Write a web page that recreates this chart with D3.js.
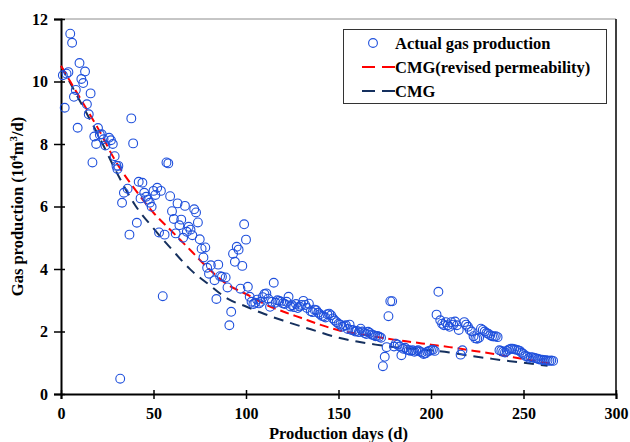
<!DOCTYPE html>
<html>
<head>
<meta charset="utf-8">
<script src="https://cdn.jsdelivr.net/npm/d3@7"></script>
<style>
  body { margin: 0; background: #fff; }
  svg { display: block; }
  text { font-family: "Liberation Serif", "Times New Roman", serif; font-weight: bold; fill: #000; }
</style>
</head>
<body>
<svg id="chart" width="630" height="442"></svg>
<script>
// actual gas production, [day, 10^4 m3/d]
var actualDays = [1,2,3,4,5,6,7,8,9,10,11,12,13,14,15,16,17,18,19,20,21,22,23,24,26,27,28,29,30,30.5,31,32,33,34,36,37,38,39,41,42,43,44,45,46,47,48,49,50,51,52,53,54,55,56,57,58,59,60,61,62,63,64,65,66,67,68,69,70,71,72,73,74,75,76,77,78,79,80,81,83,84,85,86,87,89,90,91,92,93,94,95,96,97,98,99,100,
  101,102,103,104,105,106,107,108,109,110,111,112,113,114,115,116,117,118,119,120,121,122,123,124,125,126,127,128,129,130,131,132,133,134,135,136,137,138,139,140,141,142,143,144,145,146,147,148,149,150,151,152,153,154,155,156,157,158,159,160,161,162,163,164,165,166,167,168,169,170,171,172,
  173,174,175,176,177,178,179,180,181,182,183,184,185,186,187,188,189,190,191,192,193,194,195,196,197,198,199,200,201,202,203,204,
  205,206,207,208,209,210,211,212,213,214,215,216,217,218,219,220,221,222,223,224,225,226,227,228,229,230,231,232,233,234,235,236,
  237,238,239,240,241,242,243,244,245,246,247,248,249,250,251,252,253,254,255,256,257,258,259,260,261,262,263,264,265,266];
var actualGas = [10.2,9.16,10.25,10.3,11.53,11.24,9.51,9.73,8.52,10.59,10.08,9.95,10.32,9.27,8.95,9.62,7.41,8.24,8.0,8.51,8.3,8.31,8.15,7.95,8.2,8.12,8.0,7.61,7.3,7.2,7.3,0.49,6.12,6.44,6.57,5.1,8.82,8.02,5.48,6.79,6.26,6.76,6.44,6.31,6.22,6.12,5.99,6.5,6.37,6.6,5.17,6.5,3.13,5.1,7.41,7.38,6.33,5.85,5.6,5.14,6.1,5.4,5.58,5.0,6.02,5.19,5.35,5.26,5.08,5.91,5.81,5.49,4.95,4.65,4.37,4.69,4.04,3.85,4.12,3.64,3.04,4.14,3.77,3.75,3.73,3.41,2.2,2.63,4.49,4.23,4.71,4.62,3.37,4.1,5.43,4.94,
  3.43,3.11,2.95,2.88,2.92,3.02,2.9,2.95,3.1,3.2,3.22,3.05,2.79,2.95,3.56,2.92,3.0,2.98,2.95,2.9,2.88,2.95,3.11,2.8,2.84,2.78,2.88,2.75,2.8,2.85,2.98,2.85,2.75,2.89,2.65,2.62,2.7,2.68,2.6,2.55,2.5,2.48,2.45,2.55,2.57,2.52,2.42,2.35,2.3,2.25,2.22,2.15,2.18,2.2,2.08,2.22,2.05,2.04,2.0,2.02,1.98,2.09,2.0,1.95,1.92,1.99,1.95,1.9,1.88,1.85,1.86,1.83,
  1.8,0.89,1.19,1.5,2.49,2.97,2.97,1.52,1.61,1.58,1.52,1.24,1.45,1.48,1.42,1.4,1.38,1.4,1.35,1.38,1.4,1.36,1.33,1.28,1.3,1.35,1.38,1.4,1.42,1.38,2.54,3.27,
  2.36,2.25,2.2,2.3,2.2,2.15,2.3,2.22,2.32,2.2,2.05,1.26,1.4,2.3,2.22,2.15,2.05,2.0,1.85,1.78,1.77,1.8,2.09,2.05,2.0,1.95,1.93,1.88,1.85,1.84,1.85,1.82,
  1.4,1.38,1.35,1.33,1.38,1.42,1.45,1.45,1.43,1.42,1.4,1.38,1.32,1.28,1.22,1.2,1.15,1.18,1.17,1.15,1.14,1.12,1.1,1.1,1.08,1.08,1.07,1.06,1.07,1.06];

// CMG simulation with revised permeability
var revisedDays = [0,10,20,30,40,50,60,70,80,90,100,110,120,130,140,150,160,170,180,190,200,210,220,230,240,250,260,266];
var revisedGas  = [10.5,9.5,8.5,7.4,6.55,5.8,5.2,4.6,4.0,3.5,3.2,2.88,2.64,2.43,2.22,2.04,1.93,1.83,1.74,1.66,1.58,1.5,1.41,1.32,1.22,1.12,1.02,0.97];

// CMG simulation
var cmgDays = [0,10,20,30,40,50,60,70,80,90,100,110,120,135,150,160,170,180,190,200,210,220,230,240,250,263];
var cmgGas  = [10.5,9.4,8.3,7.1,6.05,5.3,4.62,3.98,3.5,3.05,2.8,2.56,2.35,2.07,1.8,1.68,1.58,1.5,1.45,1.4,1.33,1.23,1.15,1.07,1.0,0.9];

var xTicks = [0,50,100,150,200,250,300];
var yTicks = [0,2,4,6,8,10,12];
var legendLabels = ["Actual gas production", "CMG(revised permeability)", "CMG"];

var svg = d3.select("#chart");
var margin = {left: 61, right: 14, top: 19, bottom: 48};
var width = 630, height = 442;

var x = d3.scaleLinear().domain([0, 300]).range([margin.left, width - margin.right]);
var y = d3.scaleLinear().domain([0, 12]).range([height - margin.bottom, margin.top]);

// frame (top and right)
svg.append("line")
    .attr("x1", x(0)).attr("x2", x(300))
    .attr("y1", y(12)).attr("y2", y(12))
    .attr("stroke", "#8c8c8c").attr("stroke-width", 1);
svg.append("line")
    .attr("x1", x(300)).attr("x2", x(300))
    .attr("y1", y(12)).attr("y2", y(0))
    .attr("stroke", "#000").attr("stroke-width", 1.5);

// axes
var xAxis = svg.append("g")
    .attr("transform", "translate(0," + y(0) + ")")
    .call(d3.axisBottom(x).tickValues(xTicks).tickSize(5).tickPadding(9));
var yAxis = svg.append("g")
    .attr("transform", "translate(" + x(0) + ",0)")
    .call(d3.axisLeft(y).tickValues(yTicks).tickSize(7).tickPadding(6));

[xAxis, yAxis].forEach(function (g) {
    g.select(".domain").attr("stroke", "#000").attr("stroke-width", 2);
    g.selectAll(".tick line").attr("stroke", "#000").attr("stroke-width", 1.5);
    g.selectAll(".tick text").style("font-size", "16px").attr("fill", "#000");
});
// ticks cross the axis
xAxis.selectAll(".tick line").attr("y1", -4);
yAxis.selectAll(".tick line").attr("x1", 4);

// simulated curves
var lineGen = d3.line()
    .x(function (d) { return x(d[0]); })
    .y(function (d) { return y(d[1]); })
    .curve(d3.curveMonotoneX);

svg.append("path")
    .datum(cmgDays.map(function (d, i) { return [d, cmgGas[i]]; }))
    .attr("d", lineGen)
    .attr("fill", "none")
    .attr("stroke", "#15305e")
    .attr("stroke-width", 2)
    .attr("stroke-dasharray", "10,7");

svg.append("path")
    .datum(revisedDays.map(function (d, i) { return [d, revisedGas[i]]; }))
    .attr("d", lineGen)
    .attr("fill", "none")
    .attr("stroke", "#ff0000")
    .attr("stroke-width", 2)
    .attr("stroke-dasharray", "9,5");

// actual points
svg.append("g")
    .selectAll("circle")
    .data(actualDays.map(function (d, i) { return [d, actualGas[i]]; }))
    .enter().append("circle")
    .attr("cx", function (d) { return x(d[0]); })
    .attr("cy", function (d) { return y(d[1]); })
    .attr("r", 4.4)
    .attr("fill", "none")
    .attr("stroke", "#1f50dc")
    .attr("stroke-width", 1.1);

// axis titles
svg.append("text")
    .attr("x", (x(0) + x(300)) / 2)
    .attr("y", 439)
    .attr("text-anchor", "middle")
    .style("font-size", "16.5px")
    .text("Production days (d)");

var yTitle = svg.append("text")
    .attr("transform", "translate(23," + ((y(0) + y(12)) / 2) + ") rotate(-90)")
    .attr("text-anchor", "middle")
    .style("font-size", "16.5px");
yTitle.append("tspan").text("Gas production (10");
yTitle.append("tspan").attr("dy", -6).style("font-size", "11px").text("4");
yTitle.append("tspan").attr("dy", 6).text("m");
yTitle.append("tspan").attr("dy", -6).style("font-size", "11px").text("3");
yTitle.append("tspan").attr("dy", 6).text("/d)");

// legend
var legend = svg.append("g");
legend.append("rect")
    .attr("x", 343.5).attr("y", 29.5)
    .attr("width", 263).attr("height", 74)
    .attr("fill", "#fff")
    .attr("stroke", "#333").attr("stroke-width", 1);

var rowY = [43, 67, 91];
legend.append("circle")
    .attr("cx", 373).attr("cy", rowY[0]).attr("r", 4.4)
    .attr("fill", "none").attr("stroke", "#1f50dc").attr("stroke-width", 1.1);
legend.append("line")
    .attr("x1", 362).attr("x2", 395).attr("y1", rowY[1]).attr("y2", rowY[1])
    .attr("stroke", "#ff0000").attr("stroke-width", 2).attr("stroke-dasharray", "13,7");
legend.append("line")
    .attr("x1", 362).attr("x2", 395).attr("y1", rowY[2]).attr("y2", rowY[2])
    .attr("stroke", "#15305e").attr("stroke-width", 2).attr("stroke-dasharray", "13,7");

legend.selectAll("text.lab")
    .data(legendLabels)
    .enter().append("text")
    .attr("class", "lab")
    .attr("x", 395)
    .attr("y", function (d, i) { return rowY[i] + 5.5; })
    .style("font-size", "16.5px")
    .text(function (d) { return d; });
</script>
</body>
</html>
